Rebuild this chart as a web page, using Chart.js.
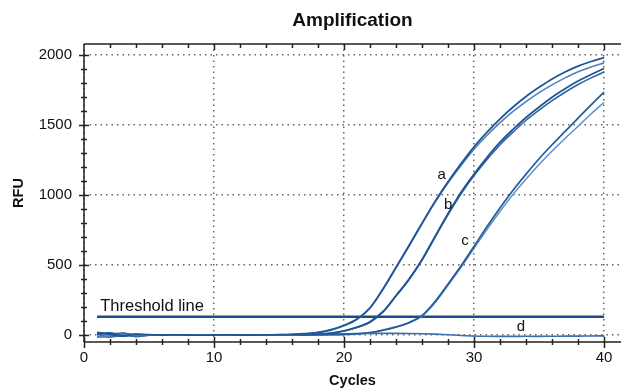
<!DOCTYPE html>
<html>
<head>
<meta charset="utf-8">
<script src="https://cdn.jsdelivr.net/npm/chart.js@4"></script>
<style>
  html, body { margin: 0; padding: 0; background: #fff; }
  #wrap { width: 621px; height: 390px; }
</style>
</head>
<body>
<div id="wrap"><canvas id="ampChart" width="621" height="390"></canvas></div>
<script>
const cycles = [1,2,3,4,5,6,7,8,9,10,11,12,13,14,15,16,17,18,19,20,21,22,23,24,25,26,27,28,29,30,31,32,33,34,35,36,37,38,39,40];

const curveA1 = [12,5,-6,4,2,0,1,0,-1,0,1,0,0,1,2,4,9,19,38,70,115,195,330,485,640,800,955,1095,1225,1345,1450,1545,1630,1705,1770,1830,1880,1922,1955,1982];
const curveA2 = [-14,-8,6,-3,-1,0,-1,0,1,0,-1,0,1,0,1,3,8,17,35,66,112,192,326,480,636,795,948,1088,1212,1328,1428,1518,1598,1668,1732,1788,1838,1882,1916,1945];
const curveB1 = [18,9,12,2,1,0,0,-1,0,1,0,0,-1,0,0,1,2,6,14,30,56,95,168,282,400,540,705,868,1020,1150,1270,1378,1470,1555,1630,1700,1760,1815,1862,1905];
const curveB2 = [-8,-15,-4,-10,-2,0,1,0,0,-1,0,1,0,0,1,1,2,5,13,28,53,91,164,278,395,535,698,860,1010,1140,1255,1360,1450,1535,1608,1675,1735,1790,1838,1880];
const curveC1 = [8,15,-9,6,0,1,0,0,-1,0,0,1,0,0,-1,0,0,1,2,4,9,18,35,58,90,140,240,365,495,635,775,910,1035,1150,1260,1360,1455,1550,1645,1736];
const curveC2 = [-16,-6,10,-12,-2,0,1,0,0,1,0,0,1,0,0,0,0,1,2,3,8,16,33,56,86,134,230,355,483,620,755,885,1005,1115,1218,1315,1405,1492,1580,1664];
const curveD = [5,-10,14,-7,2,0,-1,1,0,0,1,0,0,1,2,3,4,6,8,9,10,11,12,12,11,9,6,2,-3,-7,-9,-10,-10,-9,-10,-9,-8,-8,-7,-6];

const thresholdValue = 130;
const thresholdSpan = [1, 40];

const xTicks = [0, 10, 20, 30, 40];
const yTicks = [0, 500, 1000, 1500, 2000];

// text labels: [text, cycle, rfu]
const curveNotes = [
  ["a", 27.5, 1145],
  ["b", 28.0, 930],
  ["c", 29.3, 670],
  ["d", 33.6, 58]
];
const thresholdNote = ["Threshold line", 1.25, 205];

const FONT = "'Liberation Sans', Arial, sans-serif";

function toPoints(values) {
  return cycles.map((c, i) => ({ x: c, y: values[i] }));
}

function curve(values, color, width) {
  return {
    data: toPoints(values),
    borderColor: color,
    borderWidth: width,
    pointRadius: 0,
    cubicInterpolationMode: "monotone",
    fill: false
  };
}

// axis frame, tick marks and the curve notes
const framePlugin = {
  id: "frame",
  afterDatasetsDraw(chart) {
    const ctx = chart.ctx;
    const area = chart.chartArea;
    const xs = chart.scales.x;
    const ys = chart.scales.y;
    ctx.save();
    ctx.strokeStyle = "#222";
    ctx.lineWidth = 1.5;
    ctx.beginPath();
    ctx.moveTo(area.left, area.top);
    ctx.lineTo(area.right, area.top);
    ctx.moveTo(area.left, area.top);
    ctx.lineTo(area.left, area.bottom);
    ctx.moveTo(area.left, area.bottom);
    ctx.lineTo(area.right, area.bottom);
    for (let v = 0; v <= 40; v += 2) {
      const px = Math.round(xs.getPixelForValue(v)) + 0.5;
      const major = v % 10 === 0;
      ctx.moveTo(px, area.bottom - (major ? 5 : 3));
      ctx.lineTo(px, area.bottom + (major ? 6 : 3));
      if (v > 0) {
        ctx.moveTo(px, area.top);
        ctx.lineTo(px, area.top + (major ? 6 : 4));
      }
    }
    for (let v = 0; v <= 2000; v += 100) {
      const py = Math.round(ys.getPixelForValue(v)) + 0.5;
      const major = v % 500 === 0;
      ctx.moveTo(area.left - (major ? 5 : 3), py);
      ctx.lineTo(area.left + (major ? 5 : 3), py);
    }
    ctx.stroke();

    ctx.fillStyle = "#111";
    ctx.font = "15px " + FONT;
    ctx.textAlign = "center";
    ctx.textBaseline = "middle";
    curveNotes.forEach(([t, cx, cy]) => {
      ctx.fillText(t, xs.getPixelForValue(cx), ys.getPixelForValue(cy));
    });
    ctx.font = "16.5px " + FONT;
    ctx.textAlign = "left";
    ctx.fillText(thresholdNote[0], xs.getPixelForValue(thresholdNote[1]), ys.getPixelForValue(thresholdNote[2]));
    ctx.restore();
  }
};

const ctx = document.getElementById("ampChart").getContext("2d");
const ampChart = new Chart(ctx, {
  type: "line",
  data: {
    datasets: [
      curve(curveA1, "#1f5596", 1.8),
      curve(curveA2, "#4f82bb", 1.6),
      curve(curveB1, "#1f5596", 1.8),
      curve(curveB2, "#2e65a4", 1.6),
      curve(curveC1, "#245a9b", 1.7),
      curve(curveC2, "#5e8fc6", 1.5),
      curve(curveD, "#3b6fae", 1.6),
      {
        data: thresholdSpan.map((c) => ({ x: c, y: thresholdValue })),
        borderColor: "#1c4a8a",
        borderWidth: 2.5,
        pointRadius: 0,
        fill: false
      }
    ]
  },
  options: {
    responsive: false,
    animation: false,
    layout: { padding: 0 },
    plugins: {
      legend: { display: false },
      tooltip: { enabled: false },
      title: { display: false }
    },
    scales: {
      x: {
        type: "linear",
        position: "bottom",
        min: 0,
        max: 41.3,
        afterBuildTicks: (s) => { s.ticks = xTicks.map((v) => ({ value: v })); },
        afterFit: (s) => { s.height = 48; },
        ticks: {
          padding: 7,
          color: "#111",
          font: { family: FONT, size: 15 },
          maxRotation: 0,
          callback: (v) => String(v)
        },
        grid: { color: "#666", lineWidth: 1.5, drawTicks: false },
        border: { display: false, dash: [1.5, 4] },
        title: {
          display: true,
          text: "Cycles",
          color: "#111",
          font: { family: FONT, size: 14.5, weight: "bold" },
          padding: { top: 0, bottom: 0 }
        }
      },
      xTop: {
        type: "linear",
        position: "top",
        min: 0,
        max: 41.3,
        afterFit: (s) => { s.height = 44; },
        ticks: { display: false },
        grid: { display: false, drawTicks: false },
        border: { display: false },
        title: {
          display: true,
          text: "Amplification",
          color: "#111",
          font: { family: FONT, size: 19, weight: "bold" },
          padding: { top: 9, bottom: 0 }
        }
      },
      y: {
        type: "linear",
        min: -50,
        max: 2080,
        afterBuildTicks: (s) => { s.ticks = yTicks.map((v) => ({ value: v })); },
        afterFit: (s) => { s.width = 84; },
        ticks: {
          padding: 12,
          color: "#111",
          font: { family: FONT, size: 15 },
          callback: (v) => String(v)
        },
        grid: { color: "#666", lineWidth: 1.5, drawTicks: false },
        border: { display: false, dash: [1.5, 4] },
        title: {
          display: true,
          text: "RFU",
          color: "#111",
          font: { family: FONT, size: 14.5, weight: "bold" },
          padding: { top: 10, bottom: 0 }
        }
      }
    }
  },
  plugins: [framePlugin]
});
</script>
</body>
</html>
